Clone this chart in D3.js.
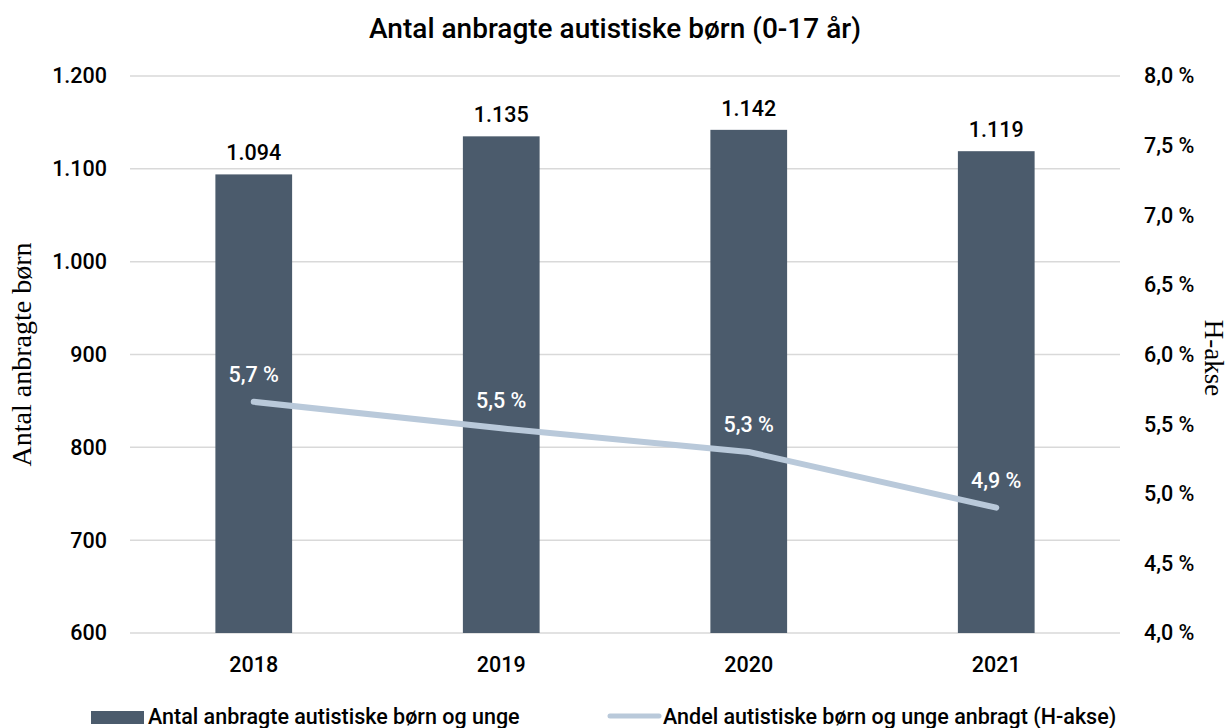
<!DOCTYPE html>
<html><head><meta charset="utf-8">
<script src="https://cdn.jsdelivr.net/npm/d3@7"></script>
<style>
body{margin:0;background:#fff;}
svg{display:block;}
</style></head>
<body>
<svg id="c" width="1231" height="728"></svg>
<script>
const years = ["2018","2019","2020","2021"];
const counts = [1094,1135,1142,1119];
const shares = [5.66,5.47,5.30,4.90];
const leftTicks = [600,700,800,900,1000,1100,1200];
const rightTicks = [4.0,4.5,5.0,5.5,6.0,6.5,7.0,7.5,8.0];
const title = "Antal anbragte autistiske børn (0-17 år)";
const leftTitle = "Antal anbragte børn";
const rightTitle = "H-akse";
const legendLabels = ["Antal anbragte autistiske børn og unge","Andel autistiske børn og unge anbragt (H-akse)"];

const loc = d3.formatLocale({decimal:",", thousands:".", grouping:[3], currency:["","kr"]});
const fInt = loc.format(",d");
const fPct = d => loc.format(".1f")(d) + " %";

const font = "Roboto,sans-serif";
const serif = "'Liberation Serif','DejaVu Serif',serif";
const fs = 21.5;
const svg = d3.select("#c");
const m = {l:130, r:1120, t:76, b:633};

const x = d3.scaleBand().domain(years).range([m.l, m.r]).paddingInner(0.69).paddingOuter(0.345);
const yL = d3.scaleLinear().domain([600,1200]).range([m.b, m.t]);
const yR = d3.scaleLinear().domain([4,8]).range([m.b, m.t]);

// grid
svg.append("g").selectAll("line").data(leftTicks).join("line")
  .attr("x1", m.l).attr("x2", m.r)
  .attr("y1", d=>yL(d)).attr("y2", d=>yL(d))
  .attr("stroke","#d9d9d9").attr("stroke-width",1.5);

function styleTicks(g){
  g.select(".domain").remove();
  g.selectAll("text").attr("font-family",font).attr("font-size",fs).attr("font-weight",500).attr("fill","#000");
}

// left axis
svg.append("g").attr("transform",`translate(${m.l-23},0)`)
  .call(d3.axisLeft(yL).tickValues(leftTicks).tickFormat(fInt).tickSize(0).tickPadding(0))
  .call(styleTicks);

// right axis
svg.append("g").attr("transform",`translate(${m.r+24},0)`)
  .call(d3.axisRight(yR).tickValues(rightTicks).tickFormat(fPct).tickSize(0).tickPadding(0))
  .call(styleTicks);

// x axis
svg.append("g").attr("transform",`translate(0,${m.b+24})`)
  .call(d3.axisBottom(x).tickSize(0).tickPadding(0))
  .call(styleTicks);

// bars
svg.append("g").selectAll("rect").data(years).join("rect")
  .attr("x", d=>x(d)).attr("width", x.bandwidth())
  .attr("y", (d,i)=>yL(counts[i])).attr("height",(d,i)=>yL(600)-yL(counts[i]))
  .attr("fill","#4b5b6c");

// bar labels
svg.append("g").selectAll("text").data(years).join("text")
  .attr("x", d=>x(d)+x.bandwidth()/2).attr("y",(d,i)=>yL(counts[i])-14)
  .attr("text-anchor","middle").attr("font-family",font).attr("font-size",fs).attr("font-weight",500)
  .attr("fill","#000").text((d,i)=>fInt(counts[i]));

// line
const line = d3.line().x((d,i)=>x(years[i])+x.bandwidth()/2).y(d=>yR(d));
svg.append("path").datum(shares).attr("d",line)
  .attr("fill","none").attr("stroke","#b9c9da").attr("stroke-width",6).attr("stroke-linecap","round").attr("stroke-linejoin","round");

// line labels
svg.append("g").selectAll("text").data(shares).join("text")
  .attr("x",(d,i)=>x(years[i])+x.bandwidth()/2).attr("y",d=>yR(d)-20)
  .attr("text-anchor","middle").attr("font-family",font).attr("font-size",fs).attr("font-weight",500)
  .attr("fill","#fff").text(d=>fPct(d));

// title
svg.append("text").attr("x",615).attr("y",38).attr("text-anchor","middle")
  .attr("font-family",font).attr("font-size",28).attr("font-weight",500).attr("fill","#000").text(title);

// axis titles
svg.append("text").attr("transform",`translate(31,${(m.t+m.b)/2}) rotate(-90)`)
  .attr("text-anchor","middle").attr("font-family",serif).attr("font-size",28).attr("fill","#000").text(leftTitle);
svg.append("text").attr("transform",`translate(1205,358) rotate(90)`)
  .attr("text-anchor","middle").attr("font-family",serif).attr("font-size",27).attr("fill","#000").text(rightTitle);

// legend
const lg = svg.append("g");
lg.append("rect").attr("x",91).attr("y",711).attr("width",53).attr("height",13).attr("fill","#4b5b6c");
lg.append("text").attr("x",148).attr("y",724).attr("font-family",font).attr("font-size",fs).attr("font-weight",500).attr("fill","#000").text(legendLabels[0]);
lg.append("line").attr("x1",610).attr("x2",659).attr("y1",716).attr("y2",716).attr("stroke","#b9c9da").attr("stroke-width",5).attr("stroke-linecap","round");
lg.append("text").attr("x",663).attr("y",724).attr("font-family",font).attr("font-size",fs).attr("font-weight",500).attr("fill","#000").text(legendLabels[1]);
</script>
</body></html>
